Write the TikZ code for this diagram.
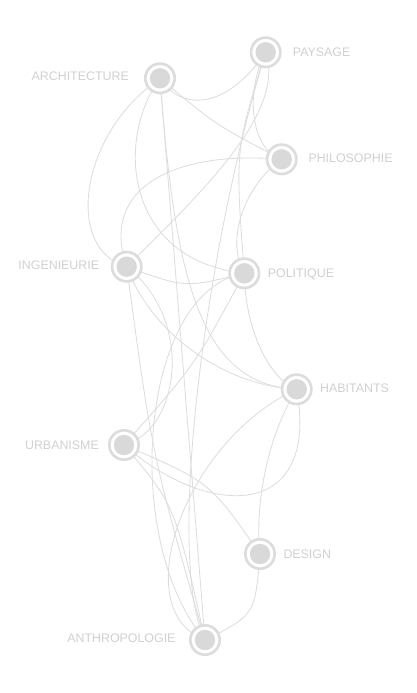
\documentclass[tikz,border=0pt]{standalone}
\usepackage{fontspec}
\setmainfont{Liberation Sans}
\usetikzlibrary{backgrounds}
\definecolor{edgecol}{RGB}{221,221,221}
\definecolor{ringcol}{RGB}{220,220,220}
\definecolor{dotcol}{RGB}{217,217,217}
\definecolor{labcol}{RGB}{208,208,208}
\tikzset{
  edge/.style={draw=edgecol, line width=0.85pt},
  vtx/.style={circle, draw=ringcol, line width=2.6pt, fill=white, minimum size=29.4pt, inner sep=0pt,
    path picture={\fill[dotcol] (path picture bounding box.center) circle (10.2pt);}},
  lbl/.style={text=labcol, font=\fontsize{12.4}{14}\selectfont, inner sep=0pt, text height=8.9pt, text depth=0pt}
}
\begin{document}
\begin{tikzpicture}[x=1pt,y=-1pt]
\useasboundingbox (0,0) rectangle (417,693);
% nodes
\node[vtx] (arch) at (160,78.3) {};
\node[vtx] (pay) at (265.7,52.3) {};
\node[vtx] (phil) at (281.7,159.3) {};
\node[vtx] (ing) at (126.7,266.7) {};
\node[vtx] (pol) at (244.3,273.3) {};
\node[vtx] (hab) at (296.7,389.3) {};
\node[vtx] (urb) at (124,445) {};
\node[vtx] (des) at (260,554) {};
\node[vtx] (ant) at (205,640) {};
% labels
\node[lbl, anchor=east] (archL) at (129,76.5) {ARCHITECTURE};
\node[lbl, anchor=west] (payL) at (292.7,52.3) {PAYSAGE};
\node[lbl, anchor=west] (philL) at (308.3,157.7) {PHILOSOPHIE};
\node[lbl, anchor=east] (ingL) at (99.3,265.3) {INGENIEURIE};
\node[lbl, anchor=west] (polL) at (267.7,273.3) {POLITIQUE};
\node[lbl, anchor=west] (habL) at (320,387.7) {HABITANTS};
\node[lbl, anchor=east] (urbL) at (99,445) {URBANISME};
\node[lbl, anchor=west] (desL) at (283.3,554) {DESIGN};
\node[lbl, anchor=east] (antL) at (175.7,638.3) {ANTHROPOLOGIE};
% edges
\begin{scope}[on background layer]
\draw[edge] (arch.center) .. controls (180,110) and (225,112) .. (pay.center);
\draw[edge] (arch.center) .. controls (216,125) .. (phil.center);
\draw[edge] (arch.center) .. controls (78,135) and (65,250) .. (ing.center);
\draw[edge] (arch.center) .. controls (115,140) and (125,260) .. (pol.center);
\draw[edge] (arch.center) .. controls (175,280) and (200,385) .. (hab.center);
\draw[edge] (arch.center) -- (ant.center);
\draw[edge] (pay.center) .. controls (245,90) and (250,150) .. (phil.center);
\draw[edge] (pay.center) .. controls (285,110) and (210,185) .. (ing.center);
\draw[edge] (pay.center) .. controls (235,150) .. (pol.center);
\draw[edge] (pay.center) .. controls (205,250) and (165,560) .. (ant.center);
\draw[edge] (phil.center) .. controls (170,150) and (100,190) .. (ing.center);
\draw[edge] (phil.center) .. controls (245,185) and (225,240) .. (pol.center);
\draw[edge] (ing.center) .. controls (185,288) .. (pol.center);
\draw[edge] (ing.center) .. controls (150,330) and (220,385) .. (hab.center);
\draw[edge] (ing.center) .. controls (152,455) .. (ant.center);
\draw[edge] (ing.center) .. controls (195,320) and (180,430) .. (urb.center);
\draw[edge] (pol.center) .. controls (245,330) and (270,380) .. (hab.center);
\draw[edge] (pol.center) .. controls (195,365) .. (urb.center);
\draw[edge] (pol.center) .. controls (140,290) and (120,540) .. (ant.center);
\draw[edge] (hab.center) .. controls (320,520) and (210,520) .. (urb.center);
\draw[edge] (hab.center) .. controls (185,440) and (125,610) .. (ant.center);
\draw[edge] (hab.center) .. controls (265,440) and (255,510) .. (des.center);
\draw[edge] (urb.center) .. controls (210,482) .. (des.center);
\draw[edge] (urb.center) .. controls (175,505) .. (ant.center);
\draw[edge] (des.center) .. controls (255,615) .. (ant.center);
\end{scope}
\end{tikzpicture}
\end{document}
